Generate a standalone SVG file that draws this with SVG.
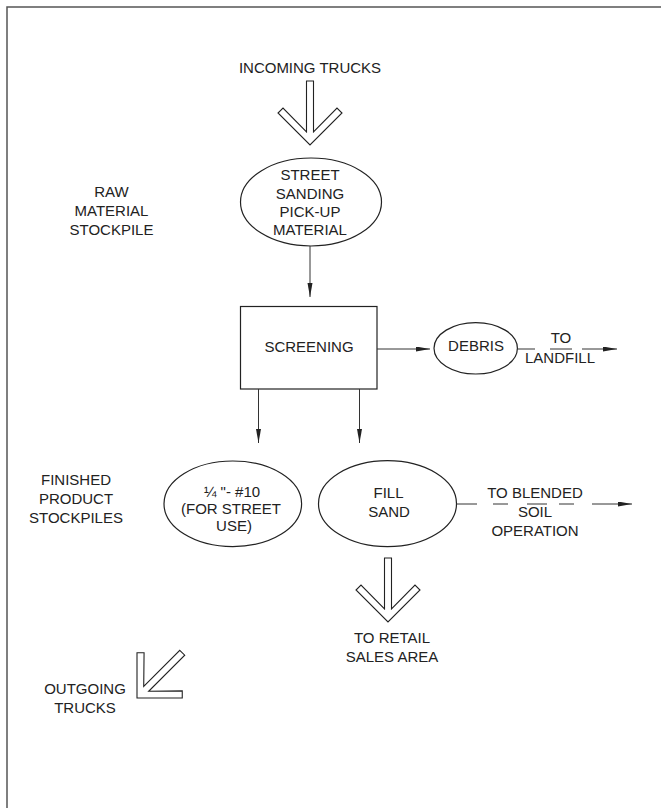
<svg xmlns="http://www.w3.org/2000/svg" width="661" height="808" viewBox="0 0 661 808">
<style>
.t{font-family:"Liberation Sans",Arial,sans-serif;font-size:15px;fill:#222;text-anchor:middle}
.s{fill:none;stroke:#222;stroke-width:1.2}
.c{fill:none;stroke:#333;stroke-width:1}
.big{fill:#fff;stroke:#222;stroke-width:1.1;stroke-linejoin:miter}
</style>
<defs>
<marker id="ah" markerUnits="userSpaceOnUse" markerWidth="15" markerHeight="6" refX="14" refY="2.5" orient="auto">
<path d="M0,0 L14,2.5 L0,5 Z" fill="#222"/>
</marker>
<path id="bigArrow" d="M-3.5,-64 L3.5,-64 L3.5,-13 L27,-37 L32,-32 L0,0 L-32,-32 L-27,-37 L-3.5,-13 Z"/>
</defs>
<rect width="661" height="808" fill="#fff"/>
<path d="M7,808 L7,7 L661,7" fill="none" stroke="#555" stroke-width="1.5"/>

<g id="incoming">
<text class="t" x="310" y="73">INCOMING TRUCKS</text>
<use href="#bigArrow" class="big" transform="translate(310,145)"/>
</g>

<g id="raw-label">
<text class="t" x="111.5" y="197">RAW</text>
<text class="t" x="111.5" y="216">MATERIAL</text>
<text class="t" x="111.5" y="235">STOCKPILE</text>
</g>

<g id="street-sanding">
<ellipse class="s" cx="311" cy="202" rx="70.5" ry="44"/>
<text class="t" x="310" y="180">STREET</text>
<text class="t" x="310" y="198.5">SANDING</text>
<text class="t" x="310" y="217">PICK-UP</text>
<text class="t" x="310" y="235">MATERIAL</text>
</g>

<g id="screening">
<rect class="s" x="240.5" y="306.5" width="136.5" height="82.5"/>
<text class="t" x="309" y="352">SCREENING</text>
</g>

<g id="debris">
<ellipse class="s" cx="475.7" cy="348.3" rx="41.7" ry="25.7"/>
<text class="t" x="476" y="351">DEBRIS</text>
</g>

<g id="landfill-label">
<text class="t" x="561" y="343">TO</text>
<text class="t" x="560" y="363">LANDFILL</text>
</g>

<g id="finished-label">
<text class="t" x="76" y="485">FINISHED</text>
<text class="t" x="76" y="504">PRODUCT</text>
<text class="t" x="76" y="523">STOCKPILES</text>
</g>

<g id="quarter-inch">
<ellipse class="s" cx="232.8" cy="503.8" rx="68.8" ry="42.8"/>
<text class="t" x="232" y="496.5">¼ "- #10</text>
<text class="t" x="231" y="513.5">(FOR STREET</text>
<text class="t" x="234" y="531">USE)</text>
</g>

<g id="fill-sand">
<ellipse class="s" cx="387.5" cy="503.7" rx="69" ry="43"/>
<text class="t" x="388.5" y="498">FILL</text>
<text class="t" x="389" y="517">SAND</text>
</g>

<g id="blended-label">
<text class="t" x="535" y="498">TO BLENDED</text>
<text class="t" x="535" y="517">SOIL</text>
<text class="t" x="535" y="536">OPERATION</text>
</g>

<g id="retail">
<use href="#bigArrow" class="big" transform="translate(388,622)"/>
<text class="t" x="392" y="643">TO RETAIL</text>
<text class="t" x="392" y="662">SALES AREA</text>
</g>

<g id="outgoing">
<text class="t" x="85" y="694">OUTGOING</text>
<text class="t" x="85" y="713">TRUCKS</text>
<use href="#bigArrow" class="big" transform="translate(137,698) rotate(45)"/>
</g>

<g id="connectors">
<line class="c" x1="310" y1="246" x2="310" y2="297" marker-end="url(#ah)"/>
<line class="c" x1="377" y1="349" x2="430" y2="349" marker-end="url(#ah)"/>
<line class="c" x1="517.4" y1="349" x2="535" y2="349"/>
<line class="c" x1="550" y1="349" x2="572" y2="349"/>
<line class="c" x1="582" y1="349" x2="617" y2="349" marker-end="url(#ah)"/>
<line class="c" x1="258.5" y1="389" x2="258.5" y2="443" marker-end="url(#ah)"/>
<line class="c" x1="359.5" y1="389" x2="359.5" y2="443" marker-end="url(#ah)"/>
<line class="c" x1="456.5" y1="504" x2="477" y2="504"/>
<line class="c" x1="493" y1="504" x2="508" y2="504"/>
<line class="c" x1="527" y1="504" x2="547" y2="504"/>
<line class="c" x1="559" y1="504" x2="574" y2="504"/>
<line class="c" x1="592" y1="504" x2="632" y2="504" marker-end="url(#ah)"/>
</g>
</svg>
